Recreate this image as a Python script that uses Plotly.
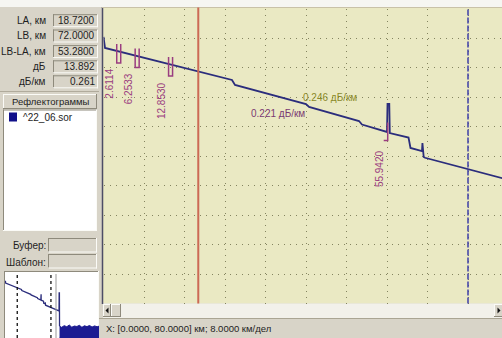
import numpy as np
import plotly.graph_objects as go

# ---------------- data ----------------
LA_KM = 18.72
LB_KM = 72.0
VIEW_KM = [0.0, 80.0]
KM_PER_DIV = 8.0

READOUT_LABELS = ["LA, км", "LB, км", "LB-LA, км", "дБ", "дБ/км"]
READOUT_VALUES = ["18.7200", "72.0000", "53.2800", "13.892", "0.261"]

# reflectogram, distance (km) vs level (dB)
TRACE_KM = [0.00, 0.15, 0.30, 25.38, 25.98, 40.00, 40.60, 50.47, 51.06, 56.00,
            56.10, 56.45, 56.55, 60.25, 60.64, 62.91, 63.00, 63.25, 63.51, 80.00]
TRACE_DB = [37.95, 36.55, 36.38, 31.82, 31.11, 28.40, 27.98, 25.98, 25.48, 24.42,
            28.40, 28.40, 24.27, 23.63, 22.14, 21.71, 22.85, 20.86, 20.75, 17.60]

# fibre end and noise floor, seen only in the overview
TAIL_KM = [84.8, 85.0, 85.4, 85.6]
TAIL_DB = [16.7, 29.4, 29.4, 6.0]
NOISE_KM = [85.6, 89.0, 93.0, 97.0, 101.0, 105.0, 109.0, 113.0, 117.0, 121.0,
            125.0, 129.0, 133.0, 137.0, 141.0, 145.0, 148.0]
NOISE_DB = [6.0, 5.2, 6.4, 5.6, 6.8, 5.3, 6.1, 5.8, 6.6, 5.2, 6.3, 5.7, 6.5,
            5.4, 6.2, 5.6, 6.0]

EVENT_KM = [2.6114, 6.2533, 12.8530, 55.9420]
EVENT_LABELS = ["2.6114", "6.2533", "12.8530", "55.9420"]

SLOPE_LABELS = ["0.221 дБ/км", "0.246 дБ/км"]
SLOPE_KM = [34.5, 44.7]
SLOPE_DB = [27.1, 29.3]

TRACE_FILE = "^22_06.sor"
STATUS_TEXT = "X: [0.0000, 80.0000] км; 8.0000 км/дел"

# ---------------- geometry / style ----------------
W, H = 502, 338
FONT = "Liberation Sans"
PANEL = "#d8d4c8"
PLOT_BG = "#eae9c3"
TRACE_C = "#2b2d7c"
EVENT_C = "#9a3d80"

X0_PX, PX_PER_KM = 103.5, 5.0625
TOP_PX, BOT_PX = 8.5, 303.5
Y_MAX = 42.0
DB_PER_PX = Y_MAX / (BOT_PX - TOP_PX)
KM_PER_PX = 1.0 / PX_PER_KM
X_MAX = (W - X0_PX) / PX_PER_KM

OV_X = [4, 99]
OV_Y = [271, 338]
OV_XRANGE = [-0.65, 148.0]
OV_YRANGE = [-2.3, 44.1]


def fx(p):
    return p / W


def fy(p):
    return 1 - p / H


shapes = []
annotations = []


def rect(x0, y0, x1, y1, fill, line=None, layer="below", width=1):
    shapes.append(dict(type="rect", xref="paper", yref="paper",
                       x0=fx(x0), x1=fx(x1), y0=fy(y1), y1=fy(y0),
                       fillcolor=fill, layer=layer,
                       line=dict(width=width if line else 0, color=line or fill)))


def hline(x0, x1, y, color, width=1, layer="below"):
    shapes.append(dict(type="line", xref="paper", yref="paper",
                       x0=fx(x0), x1=fx(x1), y0=fy(y), y1=fy(y),
                       line=dict(color=color, width=width), layer=layer))


def vline(x, y0, y1, color, width=1, layer="below"):
    shapes.append(dict(type="line", xref="paper", yref="paper",
                       x0=fx(x), x1=fx(x), y0=fy(y0), y1=fy(y1),
                       line=dict(color=color, width=width), layer=layer))


def bevel(x0, y0, x1, y1, sunken=True, fill=None, layer="below"):
    if fill:
        rect(x0, y0, x1, y1, fill, layer=layer)
    dark, light = "#8e8a7c", "#fbfbf7"
    tl, br = (dark, light) if sunken else (light, dark)
    hline(x0, x1, y0 + 0.5, tl, layer=layer)
    vline(x0 + 0.5, y0, y1, tl, layer=layer)
    hline(x0, x1, y1 - 0.5, br, layer=layer)
    vline(x1 - 0.5, y0, y1, br, layer=layer)


def text(x, y, s, anchor="left", size=10, color="#1e1e1e"):
    annotations.append(dict(xref="paper", yref="paper", x=fx(x), y=fy(y),
                            text=s, showarrow=False, xanchor=anchor,
                            yanchor="middle",
                            font=dict(family=FONT, size=size, color=color)))


# window chrome
rect(0, 0, W, 7, "#f6f6f2")
rect(103, 8, W, 303.5, PLOT_BG)
vline(102.5, 7, 304, "#4d4d66", width=1.5, layer="above")
hline(102, W, 7.5, "#c9c2a8", layer="above")

# readout panel
ROW_Y = [20.7, 36.0, 51.6, 66.8, 81.8]
for lab, val, yc in zip(READOUT_LABELS, READOUT_VALUES, ROW_Y):
    bevel(53, yc - 6.5, 98, yc + 6.5)
    text(47.5, yc, lab, anchor="right")
    text(96.5, yc, val, anchor="right")
hline(0, 99, 91.5, "#b0ab9c")

# trace list
bevel(3, 94, 97, 109, sunken=False)
text(50.5, 101.5, "Рефлектограммы", anchor="center", size=9.5)
bevel(3, 109.5, 97, 231, fill="#ffffff")
rect(9, 112.5, 17, 121.5, "#10108a")
text(21, 117, TRACE_FILE)

text(47.5, 245, "Буфер:", anchor="right")
bevel(48, 238, 97, 252.5)
text(47.5, 262, "Шаблон:", anchor="right")
bevel(48, 254, 97, 268.5)

# overview frame
bevel(OV_X[0], OV_Y[0], OV_X[1], OV_Y[1] + 2, fill="#ffffff")

# scrollbar
rect(103, 303.5, W, 318, "#f2f1ea")
bevel(103, 304, 111, 317, sunken=False, fill=PANEL)
bevel(111, 304, 121, 317, sunken=False, fill=PANEL)
bevel(494, 304, W + 1, 317, sunken=False, fill=PANEL)
for tri in ([(105.5, 310.5), (108.5, 307.5), (108.5, 313.5)],
            [(500.5, 310.5), (497.5, 307.5), (497.5, 313.5)]):
    path = "M " + " L ".join(f"{fx(a)},{fy(b)}" for a, b in tri) + " Z"
    shapes.append(dict(type="path", xref="paper", yref="paper", path=path,
                       fillcolor="#111111", line=dict(width=0), layer="above"))

# status bar
rect(99, 318, W, H, PANEL)
hline(99, W, 318.5, "#aaa593")
text(104, 328, STATUS_TEXT, size=9.5)

# ---------------- figure ----------------
fig = go.Figure()

fig.add_trace(go.Scatter(x=TRACE_KM, y=TRACE_DB, mode="lines",
                         line=dict(color=TRACE_C, width=1.8),
                         hoverinfo="skip", xaxis="x", yaxis="y"))

# event brackets
ev_x, ev_y = [], []
for k, e in enumerate(EVENT_KM):
    yv = float(np.interp(e, TRACE_KM, TRACE_DB))
    up, dn = 7 * DB_PER_PX, 12 * DB_PER_PX
    w = 4 * KM_PER_PX
    if k < len(EVENT_KM) - 1:
        ev_x += [e, e, e + w, e + w, None]
        ev_y += [yv + up, yv - dn, yv - dn, yv + up, None]
    else:
        ev_x += [e + KM_PER_PX, e + KM_PER_PX, e - 3 * KM_PER_PX, None]
        ev_y += [yv + 9.5 * DB_PER_PX, yv - 8.5 * DB_PER_PX, yv - 8.5 * DB_PER_PX, None]
    annotations.append(dict(xref="x", yref="y", x=e, y=yv, text=EVENT_LABELS[k],
                            textangle=-90, showarrow=False, xanchor="center",
                            yanchor="top", xshift=-7, yshift=-16,
                            font=dict(family=FONT, size=10, color=EVENT_C)))
fig.add_trace(go.Scatter(x=ev_x, y=ev_y, mode="lines",
                         line=dict(color=EVENT_C, width=1.5),
                         hoverinfo="skip", xaxis="x", yaxis="y"))

for s, k, d, c in zip(SLOPE_LABELS, SLOPE_KM, SLOPE_DB, ["#7a3a72", "#8a8a2a"]):
    annotations.append(dict(xref="x", yref="y", x=k, y=d, text=s, showarrow=False,
                            xanchor="center", yanchor="middle",
                            font=dict(family=FONT, size=10, color=c)))

# LA / LB cursors
shapes.append(dict(type="line", xref="x", yref="paper", x0=LA_KM, x1=LA_KM,
                   y0=fy(BOT_PX), y1=fy(TOP_PX - 1),
                   line=dict(color="#cc6a55", width=2), layer="above"))
shapes.append(dict(type="line", xref="x", yref="paper", x0=LB_KM, x1=LB_KM,
                   y0=fy(BOT_PX), y1=fy(TOP_PX - 1),
                   line=dict(color="#3c3ca8", width=1.5, dash="6px,2px"),
                   layer="above"))

# overview
ov_km = TRACE_KM + TAIL_KM
ov_db = TRACE_DB + TAIL_DB
fig.add_trace(go.Scatter(x=ov_km, y=ov_db, mode="lines",
                         line=dict(color=TRACE_C, width=1.3),
                         hoverinfo="skip", xaxis="x2", yaxis="y2"))
fig.add_trace(go.Scatter(x=NOISE_KM + [NOISE_KM[-1], NOISE_KM[0]],
                         y=NOISE_DB + [OV_YRANGE[0], OV_YRANGE[0]],
                         mode="lines", fill="toself", fillcolor="#1c1c92",
                         line=dict(color="#1c1c92", width=1),
                         hoverinfo="skip", xaxis="x2", yaxis="y2"))
for xv in (LA_KM, LB_KM):
    shapes.append(dict(type="line", xref="x2", yref="y2 domain", x0=xv, x1=xv,
                       y0=0, y1=0.97, line=dict(color="#111111", width=1.3,
                                                dash="3px,3px"), layer="above"))
shapes.append(dict(type="line", xref="x2", yref="y2 domain", x0=VIEW_KM[1],
                   x1=VIEW_KM[1], y0=0, y1=0.97,
                   line=dict(color="#9a9a9a", width=1), layer="above"))

grid = dict(showgrid=True, gridcolor="#84845f", gridwidth=1, griddash="1px,5px",
            zeroline=False, showticklabels=False, ticks="", showline=False,
            fixedrange=True)

fig.update_layout(
    width=W, height=H, margin=dict(l=0, r=0, t=0, b=0),
    paper_bgcolor=PANEL, plot_bgcolor="rgba(0,0,0,0)",
    showlegend=False,
    xaxis=dict(domain=[fx(X0_PX), 1.0], range=[VIEW_KM[0], X_MAX],
               tick0=0, dtick=KM_PER_DIV, anchor="y", **grid),
    yaxis=dict(domain=[fy(BOT_PX), fy(TOP_PX)], range=[0, Y_MAX],
               tick0=0, dtick=Y_MAX / 10, anchor="x", **grid),
    xaxis2=dict(domain=[fx(OV_X[0] + 1), fx(OV_X[1])], range=OV_XRANGE,
                visible=False, anchor="y2"),
    yaxis2=dict(domain=[0, fy(OV_Y[0] + 1)], range=OV_YRANGE,
                visible=False, anchor="x2"),
    shapes=shapes, annotations=annotations,
)

fig.write_html("out.html")
